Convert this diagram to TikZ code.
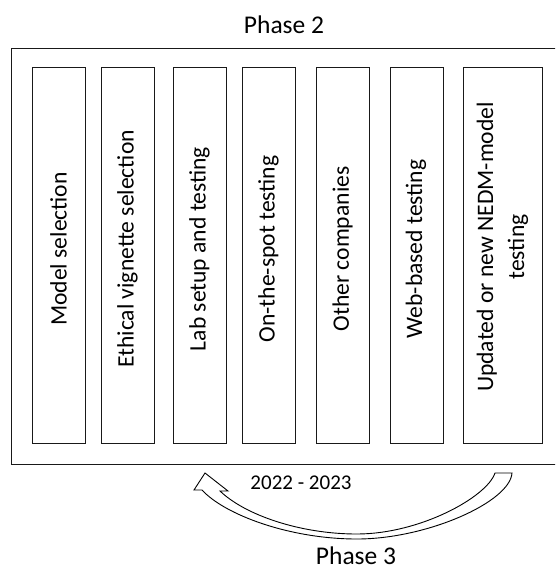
\documentclass[tikz,border=0pt]{standalone}
\usepackage{fontspec}
\setmainfont{Carlito}
\begin{document}
\begin{tikzpicture}[x=1pt,y=-1pt,
  stage/.style={draw=black!90, line width=1.2pt, minimum width=53pt, minimum height=376.5pt, inner sep=0pt, anchor=north west},
  boxtext/.style={rotate=90, font=\fontsize{23.6}{31}\selectfont, inner sep=0pt, align=center},
  phase/.style={font=\fontsize{25.5}{30}\selectfont, inner sep=0pt, anchor=base},
  yeartext/.style={font=\fontsize{21}{25}\selectfont, inner sep=0pt, anchor=base},
  bigarrow/.style={draw=black, line width=0.9pt, fill=white, line join=miter}]
\path[use as bounding box, clip] (0,0) rectangle (555,570);
\node[draw=black!90, line width=1.4pt, minimum width=546pt, minimum height=416pt, inner sep=0pt, anchor=north west] (outer) at (11,48) {};
\node[stage] (b1) at (32,66.5) {};
\node[stage] (b2) at (101,66.5) {};
\node[stage] (b3) at (173,66.5) {};
\node[stage] (b4) at (242,66.5) {};
\node[stage] (b5) at (316,66.5) {};
\node[stage] (b6) at (389.5,66.5) {};
\node[stage, minimum width=79pt] (b7) at (463,66.5) {};
\node[boxtext] (t1) at (58.5,249) {Model selection};
\node[boxtext] (t2) at (127.5,249) {Ethical vignette selection};
\node[boxtext] (t3) at (199.5,249) {Lab setup and testing};
\node[boxtext] (t4) at (268.5,249) {On-the-spot testing};
\node[boxtext] (t5) at (342.5,249) {Other companies};
\node[boxtext] (t6) at (416,249) {Web-based testing};
\node[boxtext] (t7) at (502.5,247) {Updated or new NEDM-model\\testing};
\node[phase] (p2) at (284,33) {Phase 2};
\node[phase] (p3) at (356,564) {Phase 3};
\node[yeartext] (yr) at (301,489) {2022 - 2023};
\draw[bigarrow] (495,473) .. controls (487,497) and (420,534) .. (357,534)
  .. controls (300,534) and (245,515) .. (220,491)
  -- (228,491) -- (205,473) -- (194,490) -- (202,490)
  .. controls (225,515) and (290,539) .. (357,539)
  .. controls (427,539) and (510,502) .. (512,473) -- cycle;
\end{tikzpicture}
\end{document}
